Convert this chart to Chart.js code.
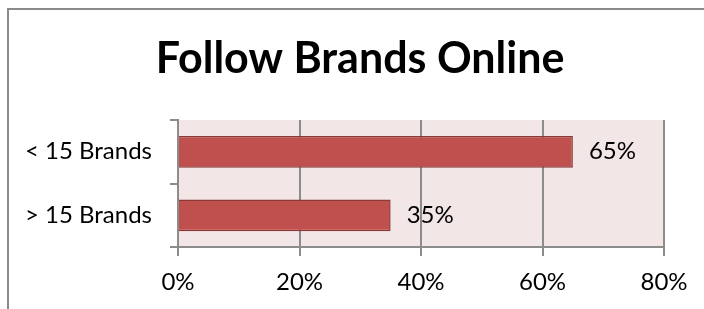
<!DOCTYPE html>
<html>
<head>
<meta charset="utf-8">
<script src="https://cdn.jsdelivr.net/npm/chart.js@4/dist/chart.umd.min.js"></script>
<style>
  html, body { margin: 0; padding: 0; background: #fff; overflow: hidden; }
</style>
</head>
<body>
<canvas id="myChart" width="704" height="309"></canvas>
<script>
// data
var categories = ["< 15 Brands", "> 15 Brands"];
var values = [65, 35];
var xTicks = [0, 20, 40, 60, 80];
var chartTitle = "Follow Brands Online";

var gridColor = '#8c8c8c';

// chart frame (only left and top edges are in view) and pink plot area
var background = {
    id: 'background',
    beforeDraw: function(chart){
        var a = chart.chartArea, c = chart.ctx;
        c.save();
        c.fillStyle = '#fff';
        c.fillRect(0, 0, chart.width, chart.height);
        c.fillStyle = '#8a8a8a';
        c.fillRect(7, 8, chart.width - 7, 2);
        c.fillRect(7, 8, 2, chart.height - 8);
        c.fillStyle = '#f2e6e6';
        c.fillRect(a.left, a.top, a.right - a.left, a.bottom - a.top);
        c.restore();
    }
};

// value labels next to the bars
var barLabels = {
    id: 'barLabels',
    afterDatasetsDraw: function(chart){
        var c = chart.ctx;
        var meta = chart.getDatasetMeta(0);
        c.save();
        c.font = '24px Lato';
        c.fillStyle = '#000';
        c.textAlign = 'left';
        c.textBaseline = 'middle';
        meta.data.forEach(function(bar, i){
            c.fillText(values[i] + '%', bar.x + 16, bar.y);
        });
        c.restore();
    }
};

var ctx = document.getElementById('myChart').getContext('2d');
var chart = new Chart(ctx, {
    type: 'bar',
    data: {
        labels: categories,
        datasets: [{
            data: values,
            backgroundColor: '#c0504d',
            borderColor: '#8c3836',
            borderWidth: 1.5,
            categoryPercentage: 1,
            barPercentage: 0.5
        }]
    },
    options: {
        indexAxis: 'y',
        responsive: false,
        animation: false,
        layout: { padding: { left: 16, right: 0, top: 0, bottom: 0 } },
        plugins: {
            legend: { display: false },
            tooltip: { enabled: false },
            title: {
                display: true,
                text: chartTitle,
                color: '#000',
                font: { family: 'Lato', size: 43, weight: 'bold', lineHeight: 1.2 },
                padding: { top: 33, bottom: 35.4 }
            }
        },
        scales: {
            x: {
                min: 0,
                max: 80,
                afterBuildTicks: function(scale){
                    scale.ticks = xTicks.map(function(v){ return { value: v }; });
                },
                afterFit: function(scale){
                    scale.height = 62;
                    scale.paddingRight = 40;
                },
                grid: { color: gridColor, lineWidth: 2, tickLength: 9 },
                border: { color: gridColor, width: 2 },
                ticks: {
                    color: '#000',
                    font: { family: 'Lato', size: 24 },
                    padding: 12,
                    maxRotation: 0,
                    callback: function(v){ return v + '%'; }
                }
            },
            y: {
                afterFit: function(scale){ scale.width = 162; },
                grid: { drawOnChartArea: false, color: gridColor, lineWidth: 2, tickLength: 8, offset: true },
                border: { color: gridColor, width: 2 },
                ticks: {
                    color: '#000',
                    font: { family: 'Lato', size: 24 },
                    padding: 18
                }
            }
        }
    },
    plugins: [background, barLabels]
});
</script>
</body>
</html>
